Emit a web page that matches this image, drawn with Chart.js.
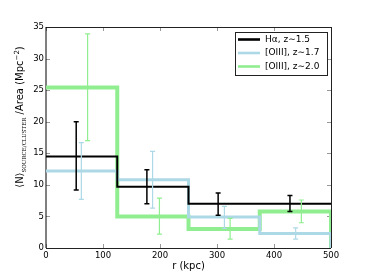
<!DOCTYPE html>
<html>
<head>
<meta charset="utf-8">
<script src="https://cdn.jsdelivr.net/npm/chart.js@4/dist/chart.umd.min.js"></script>
<style>
  html, body { margin: 0; padding: 0; background: #fff; }
  #wrap { width: 368px; height: 276px; }
</style>
</head>
<body>
<div id="wrap"><canvas id="myChart" width="368" height="276"></canvas></div>
<script>
// bin edges in kpc and the step values of each sample
const binEdges = [0, 125, 250, 375, 500];
const haVals  = [14.5, 9.7, 7.0, 7.0];
const o17Vals = [12.2, 10.8, 4.9, 2.3];
const o20Vals = [25.4, 5.0, 3.0, 5.8];

// error bars (x position, low, high)
const haErrX  = [53, 177, 302, 428];
const haErrLo = [9.2, 7.0, 5.2, 5.8];
const haErrHi = [20.0, 12.4, 8.7, 8.3];

const o17ErrX  = [62, 187, 313, 438];
const o17ErrLo = [7.7, 6.3, 3.1, 1.4];
const o17ErrHi = [16.7, 15.3, 6.6, 3.2];

const o20ErrX  = [73, 199, 323, 448];
const o20ErrLo = [17.0, 2.2, 1.4, 4.0];
const o20ErrHi = [33.9, 7.9, 4.7, 7.6];

const xTicks = [0, 100, 200, 300, 400, 500];
const yTicks = [0, 5, 10, 15, 20, 25, 30, 35];

const labels = ['H\u03b1, z\u223c1.5', '[OIII], z\u223c1.7', '[OIII], z\u223c2.0'];

// build the step outline; dropEnd = fall to zero at the last edge
function stepPoints(vals, dropEnd){
  let pts = [];
  for (let i = 0; i < vals.length; i++){
    pts.push({x: binEdges[i], y: vals[i]});
    pts.push({x: binEdges[i+1], y: vals[i]});
  }
  if (dropEnd) pts.push({x: binEdges[binEdges.length-1], y: 0});
  return pts;
}

const FONT = 'DejaVu Sans';

const errPlugin = {
  id: 'errbars',
  afterDatasetsDraw(chart){
    const ctx = chart.ctx;
    const xs = chart.scales.x, ys = chart.scales.y;
    const sets = [
      [o20ErrX, o20ErrLo, o20ErrHi, '#90ee90', 1.2],
      [o17ErrX, o17ErrLo, o17ErrHi, '#add8e6', 1.2],
      [haErrX, haErrLo, haErrHi, '#000000', 1.5],
    ];
    ctx.save();
    sets.forEach(s => {
      ctx.strokeStyle = s[3];
      ctx.lineWidth = s[4];
      for (let i = 0; i < s[0].length; i++){
        const px = xs.getPixelForValue(s[0][i]);
        const lo = ys.getPixelForValue(s[1][i]);
        const hi = ys.getPixelForValue(s[2][i]);
        ctx.beginPath();
        ctx.moveTo(px, lo); ctx.lineTo(px, hi);
        ctx.moveTo(px-2.5, lo); ctx.lineTo(px+2.5, lo);
        ctx.moveTo(px-2.5, hi); ctx.lineTo(px+2.5, hi);
        ctx.stroke();
      }
    });
    ctx.restore();
  }
};

const framePlugin = {
  id: 'frame',
  beforeDatasetsDraw(chart){
    const ctx = chart.ctx;
    const a = chart.chartArea;
    const xs = chart.scales.x, ys = chart.scales.y;
    ctx.save();
    // inward ticks on all four sides
    ctx.strokeStyle = '#999';
    ctx.lineWidth = 1;
    ctx.beginPath();
    xTicks.forEach(v => {
      const px = Math.round(xs.getPixelForValue(v)) + 0.5;
      ctx.moveTo(px, a.bottom); ctx.lineTo(px, a.bottom - 4);
      ctx.moveTo(px, a.top); ctx.lineTo(px, a.top + 4);
    });
    yTicks.forEach(v => {
      const py = Math.round(ys.getPixelForValue(v)) + 0.5;
      ctx.moveTo(a.left, py); ctx.lineTo(a.left + 4, py);
      ctx.moveTo(a.right, py); ctx.lineTo(a.right - 4, py);
    });
    ctx.stroke();
    // spines
    ctx.lineWidth = 1;
    ctx.strokeStyle = '#222';
    ctx.beginPath();
    ctx.moveTo(a.left, a.top + 0.5); ctx.lineTo(a.right, a.top + 0.5);
    ctx.moveTo(a.right + 0.5, a.top); ctx.lineTo(a.right + 0.5, a.bottom);
    ctx.moveTo(a.left, a.bottom + 0.5); ctx.lineTo(a.right, a.bottom + 0.5);
    ctx.stroke();
    ctx.strokeStyle = '#000';
    ctx.beginPath();
    ctx.moveTo(a.left, a.top); ctx.lineTo(a.left, a.bottom);
    ctx.stroke();
    ctx.restore();
  },
  afterDraw(chart){
    const ctx = chart.ctx;
    ctx.save();
    // y axis title with subscript / superscript
    const parts = [
      ['\u27e8N\u27e9', '10px ' + FONT, 0],
      ['SOURCE/CLUSTER', '5.5px "DejaVu Serif"', 3],
      [' /Area (Mpc', '10px ' + FONT, 0],
      ['\u22122', '7px ' + FONT, -4],
      [')', '10px ' + FONT, 0],
    ];
    let total = 0;
    parts.forEach(p => { ctx.font = p[1]; total += ctx.measureText(p[0]).width; });
    ctx.translate(23, 117);
    ctx.rotate(-Math.PI / 2);
    ctx.fillStyle = '#000';
    ctx.textBaseline = 'alphabetic';
    ctx.textAlign = 'left';
    let cx = -total / 2;
    parts.forEach(p => {
      ctx.font = p[1];
      ctx.fillText(p[0], cx, p[2]);
      cx += ctx.measureText(p[0]).width;
    });
    ctx.restore();

    // legend box
    ctx.save();
    const bx = 235, by = 32, bw = 92, bh = 43;
    ctx.fillStyle = '#fff';
    ctx.fillRect(bx, by, bw, bh);
    ctx.strokeStyle = '#222';
    ctx.lineWidth = 1;
    ctx.strokeRect(bx + 0.5, by + 0.5, bw, bh);
    ctx.font = '9px ' + FONT;
    ctx.textBaseline = 'middle';
    chart.data.datasets.forEach((d, i) => {
      const ry = by + 7.5 + i * 13.5;
      ctx.strokeStyle = d.borderColor;
      ctx.lineWidth = 2.6;
      ctx.beginPath();
      ctx.moveTo(bx + 3, ry); ctx.lineTo(bx + 25, ry);
      ctx.stroke();
      ctx.fillStyle = '#000';
      ctx.fillText(d.label, bx + 30, ry);
    });
    ctx.restore();
  }
};

const data = {
  datasets: [
    { label: labels[0], data: stepPoints(haVals, false), borderColor: '#000000', borderWidth: 2, clip: 0 },
    { label: labels[1], data: stepPoints(o17Vals, true), borderColor: '#add8e6', borderWidth: 3, clip: 0 },
    { label: labels[2], data: stepPoints(o20Vals, true), borderColor: '#90ee90', borderWidth: 4, clip: 0 },
  ]
};

const config = {
  type: 'line',
  data: data,
  options: {
    responsive: false,
    animation: false,
    devicePixelRatio: 1,
    layout: { padding: { left: 0, top: 27, right: 37, bottom: 0 } },
    elements: {
      point: { radius: 0 },
      line: { tension: 0, fill: false, borderJoinStyle: 'miter', borderCapStyle: 'butt' }
    },
    plugins: {
      legend: { display: false },
      tooltip: { enabled: false }
    },
    scales: {
      x: {
        type: 'linear',
        min: 0, max: 500,
        afterFit(scale){ scale.height = 28; },
        afterBuildTicks(scale){ scale.ticks = xTicks.map(v => ({value: v})); },
        grid: { display: false, drawTicks: false },
        border: { display: false },
        ticks: { color: '#000', font: { family: FONT, size: 8.5 }, padding: 3, maxRotation: 0 },
        title: { display: true, text: 'r (kpc)', color: '#000', font: { family: FONT, size: 10 }, padding: { top: 0, bottom: 4 } }
      },
      y: {
        type: 'linear',
        min: 0, max: 35,
        afterFit(scale){ scale.width = 46; },
        afterBuildTicks(scale){ scale.ticks = yTicks.map(v => ({value: v})); },
        grid: { display: false, drawTicks: false },
        border: { display: false },
        ticks: { color: '#000', font: { family: FONT, size: 8.5 }, padding: 2 }
      }
    }
  },
  plugins: [errPlugin, framePlugin]
};

const myChart = new Chart(document.getElementById('myChart'), config);
</script>
</body>
</html>
